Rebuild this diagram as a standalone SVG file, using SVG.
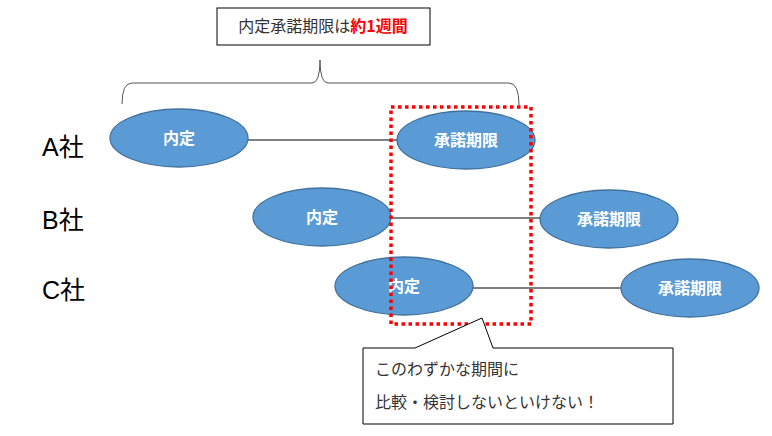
<svg xmlns="http://www.w3.org/2000/svg" width="772" height="436" viewBox="0 0 772 436">
<style>
.e{fill:#5b9bd5;stroke:#41719c;stroke-width:1.3}
.t{font-family:"Liberation Sans","Noto Sans CJK JP",sans-serif;fill:#fff;font-weight:bold;font-size:16px;text-anchor:middle}
.co{font-family:"Liberation Sans","Noto Sans CJK JP",sans-serif;font-size:25px;fill:#000}
.k{font-family:"Noto Sans CJK JP",sans-serif;font-size:16px;fill:#333}
</style>
<rect width="772" height="436" fill="#fff"/>
<g id="title"><rect x="217" y="8" width="213" height="37" fill="#fff" stroke="#000"/>
<text x="323" y="32" class="k" text-anchor="middle" font-size="14">内定承諾期限は<tspan fill="#ff0000" font-weight="bold">約1週間</tspan></text></g>
<path d="M122,104 Q122,83 132,83 L312,83 Q320,83 320,60 Q320,83 328,83 L509,83 Q519,83 519,105" fill="none" stroke="#555" stroke-width="1"/>
<text x="42" y="156" class="co">A社</text>
<text x="42" y="229" class="co">B社</text>
<text x="42" y="299" class="co">C社</text>
<g id="connectors" stroke="#000" stroke-width="1">
<line x1="248" y1="140" x2="397" y2="140"/>
<line x1="391" y1="218" x2="540" y2="218"/>
<line x1="473" y1="288" x2="621" y2="288"/>
</g>
<g id="a1"><ellipse class="e" cx="179" cy="138" rx="69" ry="29"/><text class="t" x="179" y="144">内定</text></g>
<g id="a2"><ellipse class="e" cx="466" cy="140" rx="69" ry="29"/><text class="t" x="466" y="146">承諾期限</text></g>
<g id="b1"><ellipse class="e" cx="322" cy="217" rx="69" ry="29"/><text class="t" x="322" y="223">内定</text></g>
<g id="b2"><ellipse class="e" cx="609" cy="219" rx="69" ry="29"/><text class="t" x="609" y="225">承諾期限</text></g>
<g id="c1"><ellipse class="e" cx="404" cy="286" rx="69" ry="29"/><text class="t" x="404" y="292">内定</text></g>
<g id="c2"><ellipse class="e" cx="690" cy="288" rx="69" ry="29"/><text class="t" x="690" y="294">承諾期限</text></g>
<rect x="391" y="107" width="140" height="217" fill="none" stroke="#ff0000" stroke-width="3.5" stroke-dasharray="3.5,3.5"/>
<g id="callout"><path d="M363,348 L415,348 L482,318 L493,348 L673,348 L673,424 L363,424 Z" fill="#fff" stroke="#000"/>
<text x="375" y="375" class="k">このわずかな期間に</text>
<text x="375" y="408" class="k">比較・検討しないといけない！</text></g>
</svg>
